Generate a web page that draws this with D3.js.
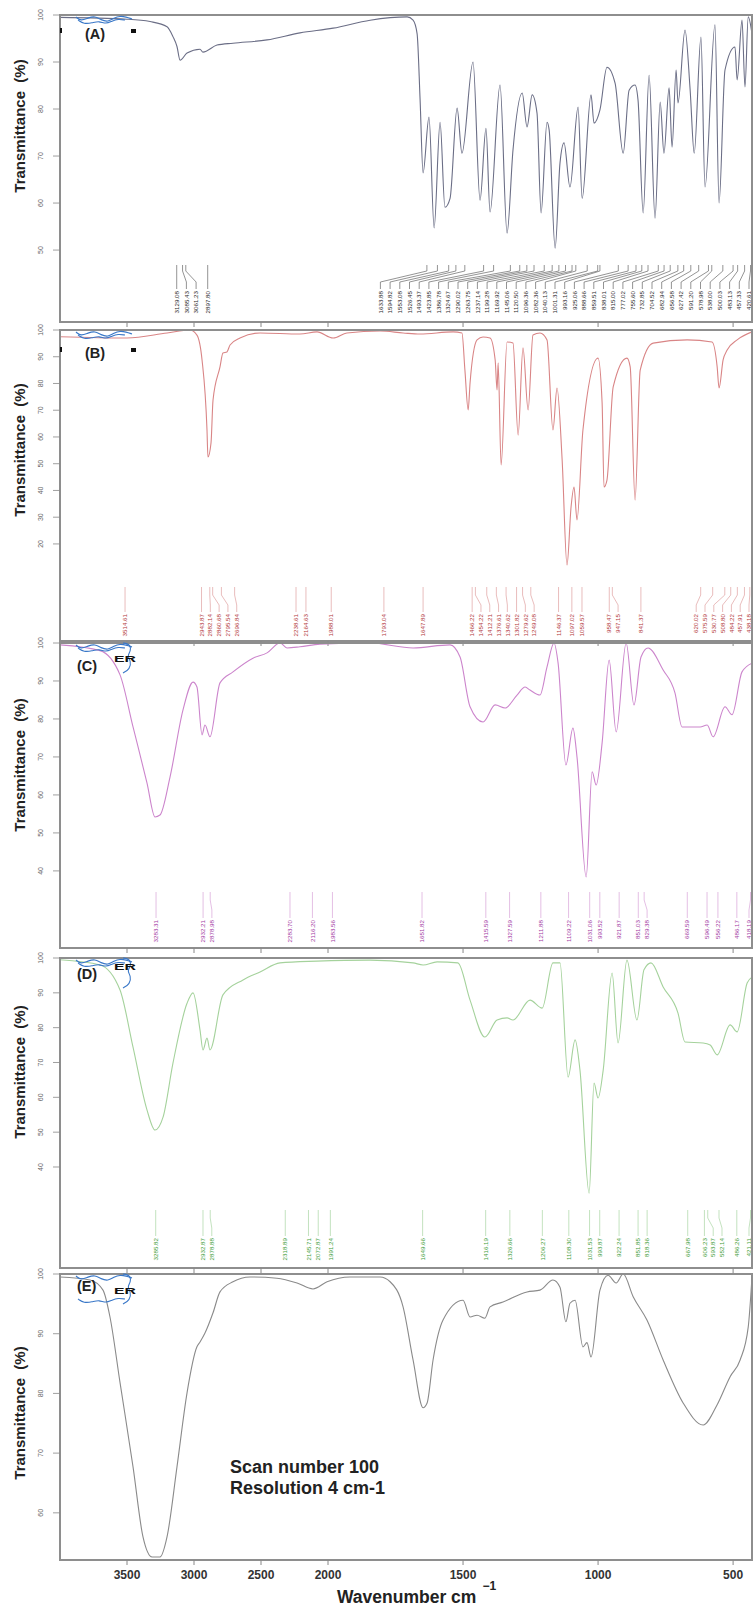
<!DOCTYPE html>
<html><head><meta charset="utf-8">
<script src="https://cdn.jsdelivr.net/npm/d3@7"></script>
<style>body{margin:0;background:#fff}svg{display:block}</style>
</head><body><svg id="c" width="755" height="1608"></svg>
<script>
// ---------------- DATA ----------------
const xTicks = [3500, 3000, 2500, 2000, 1500, 1000, 500];
const ticksA = [50, 60, 70, 80, 90, 100];
const ticksB = [20, 30, 40, 50, 60, 70, 80, 90, 100];
const ticksC = [40, 50, 60, 70, 80, 90, 100];
const ticksD = [40, 50, 60, 70, 80, 90, 100];
const ticksE = [60, 70, 80, 90, 100];

const specA = [[4000,99.5],[3500,99.1],[3328,98.6],[3201,97.5],[3157,95.4],[3127,93.3],[3104,90.4],[3052,91.9],[2955,92.7],[2933,92.1],[2828,93.6],[2709,94],[2455,94.7],[2209,96.2],[1981,97.2],[1844,98.9],[1707,99.6],[1685,98.9],[1670,96],[1659,82],[1648,66.4],[1626,78.3],[1607,54.7],[1585,77.2],[1567,59.1],[1548,61],[1522,80.2],[1504,70.6],[1463,90],[1437,60.6],[1415,75.9],[1400,58.1],[1363,85.1],[1337,53.6],[1315,71.3],[1281,83.4],[1263,76.2],[1244,83],[1226,79.1],[1211,57.9],[1189,77.2],[1181,75.5],[1159,50.4],[1141,68.5],[1126,72.8],[1104,63.4],[1074,80.4],[1059,61],[1026,83],[1015,77],[993,79.8],[967,88.9],[937,85.5],[907,70.6],[885,84],[863,85.1],[852,81.9],[833,57.9],[811,87.2],[789,56.8],[770,81.5],[756,70.6],[737,84.5],[726,71.9],[711,88.3],[704,81.3],[678,96.8],[659,84],[644,70.6],[619,95.3],[604,63.4],[567,97.9],[552,60],[530,88.3],[493,93.2],[485,86.2],[467,98.9],[456,84.7],[444,99.6],[430,96]];

const specB = [[4000,97.5],[3500,97],[3201,98.9],[3030,100],[2978,98.1],[2940,88.8],[2903,62.6],[2896,52.5],[2873,57.8],[2858,73.8],[2806,86.2],[2784,91.4],[2754,91.8],[2731,94.4],[2657,97],[2507,98.9],[2209,98.5],[2082,99.3],[1981,97],[1930,98.9],[1807,99.6],[1722,98.9],[1659,98.5],[1537,99.3],[1504,98.9],[1493,85],[1481,70.1],[1474,80.2],[1448,96.3],[1426,97.4],[1400,97],[1381,88.8],[1374,77.6],[1370,87.7],[1359,49.5],[1337,95.5],[1315,95.1],[1296,60.7],[1278,93.3],[1259,70.1],[1241,98.1],[1215,98.9],[1189,96.3],[1167,62.6],[1152,78.3],[1133,51.4],[1115,12.1],[1100,33.8],[1089,41.3],[1078,29],[1056,62.6],[1000,89.5],[985,72.7],[978,41.3],[967,43.9],[944,78.7],[893,89.5],[881,86.2],[863,36.4],[844,85],[796,95.1],[670,96.3],[578,95.5],[559,86.2],[552,78.3],[537,88.8],[522,92.5],[485,96.3],[430,99.3]];

const specC = [[4000,99.5],[3701,98],[3552,91.6],[3455,77.9],[3351,63.2],[3291,54.2],[3254,54.7],[3179,64.7],[3082,82.4],[3007,89.7],[2978,88.4],[2940,75.8],[2918,78.4],[2881,75.3],[2806,89.5],[2709,92.4],[2560,96],[2455,97.4],[2358,100],[2306,98.7],[2209,99],[2060,99.7],[1844,100],[1685,98.7],[1548,99.5],[1511,96.3],[1474,83.2],[1426,79.2],[1381,83.7],[1344,82.9],[1300,86.3],[1270,88.4],[1252,87.6],[1215,86.3],[1189,93.7],[1163,100],[1148,94.7],[1119,67.9],[1093,77.6],[1078,70],[1044,38.4],[1022,66.1],[1007,62.6],[985,73.7],[959,95.5],[933,76.6],[896,100],[867,83.7],[841,96.3],[815,98.7],[759,92.9],[715,86.8],[689,77.9],[622,77.9],[596,78.4],[574,75.3],[530,83.2],[504,81.1],[467,92.4],[430,94.7]];

const specD = [[4000,99.5],[3701,98],[3552,90.8],[3455,74.4],[3351,56.4],[3291,50.6],[3231,54.3],[3157,69.8],[3052,87],[3007,90],[2955,79.3],[2933,73.6],[2903,77],[2881,73.6],[2784,89.4],[2634,93.7],[2507,96],[2358,98.6],[2082,99.1],[1844,99.4],[1685,98.6],[1648,98],[1596,98.9],[1519,98.6],[1474,87.9],[1419,77.3],[1374,82.2],[1337,82.8],[1315,82.2],[1252,87.9],[1207,85.6],[1167,98.6],[1141,98.6],[1111,65.8],[1085,76.5],[1067,67.8],[1033,32.5],[1015,64.1],[1000,59.8],[981,67.8],[948,95.7],[926,75.6],[893,99.4],[856,82.2],[830,96.6],[804,98.6],[759,91.7],[704,84.2],[678,75.9],[611,75.6],[585,75],[559,72.2],[511,80.8],[485,78.8],[448,92.8],[430,94.5]];

const specE = [[4000,99.5],[3776,99],[3679,97.3],[3627,92.8],[3552,81.8],[3455,67.7],[3381,56],[3313,52.6],[3254,52.6],[3201,56],[3127,67.7],[3052,80.1],[2978,87.8],[2955,88.6],[2918,90.1],[2858,93.5],[2806,97],[2709,98.7],[2582,99.5],[2381,99.3],[2231,98.5],[2112,97.5],[2007,98.7],[1919,99.5],[1807,99.5],[1770,98.7],[1722,94.5],[1685,85.6],[1648,77.6],[1633,78.4],[1611,85.6],[1574,92.3],[1500,95.6],[1474,92.8],[1448,93.1],[1419,92.6],[1400,94.5],[1352,95.3],[1263,97],[1215,97.3],[1167,99],[1141,97.8],[1119,92],[1104,95.1],[1085,95.6],[1056,87.8],[1041,88.5],[1026,86.1],[993,97.3],[963,99.8],[933,98.5],[907,100],[870,96.2],[819,92.3],[759,85.6],[685,78.4],[611,74.7],[559,78.1],[511,82.8],[474,85.6],[444,91.1],[430,99.5]];

const peaksA = [3129.08,3085.43,3061.23,2897.80,1633.88,1594.82,1553.08,1526.45,1493.37,1423.85,1386.78,1324.67,1290.02,1263.75,1237.14,1199.28,1169.92,1145.06,1120.50,1096.36,1082.36,1040.13,1001.31,993.16,925.06,888.66,859.51,838.01,815.00,777.02,755.60,732.85,704.52,682.94,656.58,627.42,591.20,578.98,538.00,500.03,483.13,457.33,420.61];
const peaksB = [3514.61,2943.87,2882.14,2860.68,2795.54,2696.84,2238.61,2164.63,1988.01,1793.04,1647.89,1466.22,1454.22,1412.21,1376.61,1340.62,1301.82,1279.62,1249.08,1146.37,1097.02,1059.57,958.47,947.15,841.37,620.02,575.59,530.77,508.80,484.22,457.91,438.18];
const peaksC = [3283.31,2932.21,2878.98,2283.70,2116.20,1983.56,1651.82,1415.59,1327.59,1211.88,1109.22,1031.06,993.52,921.87,851.03,829.38,669.59,596.49,556.22,486.17,418.19];
const peaksD = [3285.82,2932.87,2878.88,2318.89,2145.71,2072.87,1991.24,1649.66,1416.19,1326.66,1206.27,1108.30,1031.53,993.87,922.24,851.85,818.36,667.98,606.23,593.87,552.14,486.26,421.11];

const panelNames = ["(A)", "(B)", "(C)", "(D)", "(E)"];
const yTitle = "Transmittance  (%)";
const xTitle = "Wavenumber cm";
const note = ["Scan number 100", "Resolution 4 cm-1"];

// ---------------- LAYOUT / STYLE ----------------
const FONT = "'Liberation Sans', Arial, Helvetica, sans-serif";
const L = 60, R = 752;
const x = d3.scaleLinear().domain([4000, 2000, 430]).range([L, 328, R]);
const svg = d3.select("#c");
const defs = svg.append("defs");

const panels = [
  {data: specA, ticks: ticksA, peaks: peaksA, top: 15, bottom: 322, ymin: 34.7, line: "#6b6e86", txt: "#2a2a2a", lead: "#666", titleY: 126, nameY: 39, lbl: [265, 271, 282, 289], sp: 9.7, mark: "sq"},
  {data: specB, ticks: ticksB, peaks: peaksB, top: 330, bottom: 641, ymin: -16.3, line: "#d98586", txt: "#b3393b", lead: "#e0a0a0", titleY: 450, nameY: 358, lbl: [587, 595, 605, 612], sp: 8.8, mark: "sq"},
  {data: specC, ticks: ticksC, peaks: peaksC, top: 643, bottom: 948, ymin: 19.7, line: "#cc85cc", txt: "#a33aa3", lead: "#d9a3d9", titleY: 765, nameY: 671, lbl: [892, 900, 910, 918], sp: 8.8, mark: "ER"},
  {data: specD, ticks: ticksD, peaks: peaksD, top: 958, bottom: 1268, ymin: 11, line: "#a5d29c", txt: "#3f9e3a", lead: "#a9d6a3", titleY: 1072, nameY: 979, lbl: [1210, 1218, 1228, 1236], sp: 8.8, mark: "ER"},
  {data: specE, ticks: ticksE, peaks: [], top: 1274, bottom: 1560, ymin: 52.1, line: "#8a8a8a", txt: "#333", lead: "#999", titleY: 1413, nameY: 1291, lbl: [0, 0, 0, 0], sp: 8.8, mark: "ER"}
];

// decorative molecule sketch (relative to panel top-left)
const moleculeTop = [[8,2],[13,6],[20,3],[27,1],[33,5],[40,7],[46,3],[52,1],[58,2],[64,4]];
const moleculeBot = [[10,5],[16,9],[24,8],[31,6],[38,9],[44,6],[50,4],[57,5]];
const bracket = [[55,0],[62,1],[63,8],[59,13],[63,18],[62,26],[55,30]];

function spread(xs, s, hi) {
  const out = xs.slice();
  for (let i = 1; i < out.length; i++) out[i] = Math.max(out[i], out[i - 1] + s);
  if (out.length && out[out.length - 1] > hi) {
    out[out.length - 1] = hi;
    for (let i = out.length - 2; i >= 0; i--) out[i] = Math.min(out[i], out[i + 1] - s);
  }
  return out;
}

panels.forEach((p, i) => {
  const y = d3.scaleLinear().domain([p.ymin, 100]).range([p.bottom, p.top]);
  const g = svg.append("g");
  const cid = "clip" + i;
  defs.append("clipPath").attr("id", cid).append("rect")
    .attr("x", L).attr("y", p.top).attr("width", R - L).attr("height", p.bottom - p.top);

  // spectrum
  const line = d3.line().x(d => x(d[0])).y(d => y(d[1])).curve(d3.curveMonotoneX);
  g.append("path").datum(p.data).attr("clip-path", `url(#${cid})`)
    .attr("d", line).attr("fill", "none").attr("stroke", p.line).attr("stroke-width", 1.1);

  // peak labels
  if (p.peaks.length) {
    const ax = p.peaks.map(v => Math.min(x(v), R - 1.5));
    const lx = spread(ax, p.sp, R - 3);
    const [y1, y2, y3, y4] = p.lbl;
    const lg = g.append("g");
    p.peaks.forEach((v, k) => {
      const path = d3.path();
      path.moveTo(ax[k], y1); path.lineTo(ax[k], y2); path.lineTo(lx[k], y3); path.lineTo(lx[k], y4);
      lg.append("path").attr("d", path.toString()).attr("fill", "none")
        .attr("stroke", p.lead).attr("stroke-width", 0.7);
      lg.append("text").attr("transform", `translate(${lx[k]},${y4 + 2}) rotate(-90)`)
        .attr("text-anchor", "end").attr("dy", "0.35em")
        .attr("font-family", FONT).attr("font-size", 6.2).attr("fill", p.txt)
        .text(v.toFixed(2));
    });
  }

  // frame
  g.append("rect").attr("x", L).attr("y", p.top).attr("width", R - L).attr("height", p.bottom - p.top)
    .attr("fill", "none").attr("stroke", "#8e8e8e").attr("stroke-width", 2);

  // y ticks
  p.ticks.forEach(t => {
    g.append("line").attr("x1", L - 7).attr("x2", L).attr("y1", y(t)).attr("y2", y(t))
      .attr("stroke", "#888").attr("stroke-width", 0.8);
    g.append("text").attr("transform", `translate(41,${y(t)}) rotate(-90)`)
      .attr("text-anchor", "middle").attr("dy", "0.35em")
      .attr("font-family", FONT).attr("font-size", 7).attr("fill", "#666").text(t);
  });
  // x ticks
  xTicks.forEach(t => {
    g.append("line").attr("x1", x(t)).attr("x2", x(t)).attr("y1", p.bottom).attr("y2", p.bottom + 5)
      .attr("stroke", "#888").attr("stroke-width", 1);
  });

  // y title
  g.append("text").attr("transform", `translate(20,${p.titleY}) rotate(-90)`)
    .attr("text-anchor", "middle").attr("dy", "0.35em")
    .attr("font-family", FONT).attr("font-weight", "bold").attr("font-size", 15)
    .attr("fill", "#222").attr("xml:space", "preserve").style("white-space", "pre").text(yTitle);

  // molecule sketch
  const ml = d3.line().x(d => L + 8 + d[0]).y(d => p.top + d[1]).curve(d3.curveBasis);
  g.append("path").attr("d", ml(moleculeTop)).attr("fill", "none").attr("stroke", "#3a78c8").attr("stroke-width", 1.2);
  if (p.mark === "ER") {
    g.append("path").attr("d", ml(moleculeBot.map(d => [d[0], d[1] + (i === 4 ? 20 : 0)]))).attr("fill", "none").attr("stroke", "#3a78c8").attr("stroke-width", 1.1);
    g.append("path").attr("d", ml(bracket)).attr("fill", "none").attr("stroke", "#3a78c8").attr("stroke-width", 1.1);
    g.append("text").attr("x", 114).attr("y", p.nameY - 9 + (i === 4 ? 12 : 0))
      .attr("font-family", FONT).attr("font-weight", "bold").attr("font-size", 8.5)
      .attr("textLength", 22).attr("lengthAdjust", "spacingAndGlyphs").attr("fill", "#111").text("ER");
  } else {
    g.append("path").attr("d", ml(moleculeBot)).attr("fill", "none").attr("stroke", "#3a78c8").attr("stroke-width", 1.1);
    g.append("rect").attr("x", 131).attr("y", p.nameY - 10).attr("width", 5).attr("height", 4).attr("fill", "#111");
    g.append("rect").attr("x", 60).attr("y", p.nameY - 11).attr("width", 2).attr("height", 5).attr("fill", "#111");
  }

  // panel name
  g.append("text").attr("x", i < 2 ? 85 : 77).attr("y", p.nameY)
    .attr("font-family", FONT).attr("font-weight", "bold").attr("font-size", 14.5)
    .attr("fill", "#222").text(panelNames[i]);
});

// bottom axis labels
xTicks.forEach(t => {
  svg.append("text").attr("x", x(t)).attr("y", 1579).attr("text-anchor", "middle")
    .attr("font-family", FONT).attr("font-weight", "bold").attr("font-size", 12)
    .attr("fill", "#333").text(t);
});
const xt = svg.append("text").attr("x", 337).attr("y", 1603)
  .attr("font-family", FONT).attr("font-weight", "bold").attr("font-size", 17.5).attr("fill", "#222");
xt.append("tspan").text(xTitle);
xt.append("tspan").attr("dx", 6).attr("dy", -13).attr("font-size", 12).text("\u22121");

note.forEach((s, k) => {
  svg.append("text").attr("x", 230).attr("y", 1473 + k * 20.5)
    .attr("font-family", FONT).attr("font-weight", "bold").attr("font-size", 18)
    .attr("fill", "#222").text(s);
});
</script></body></html>
